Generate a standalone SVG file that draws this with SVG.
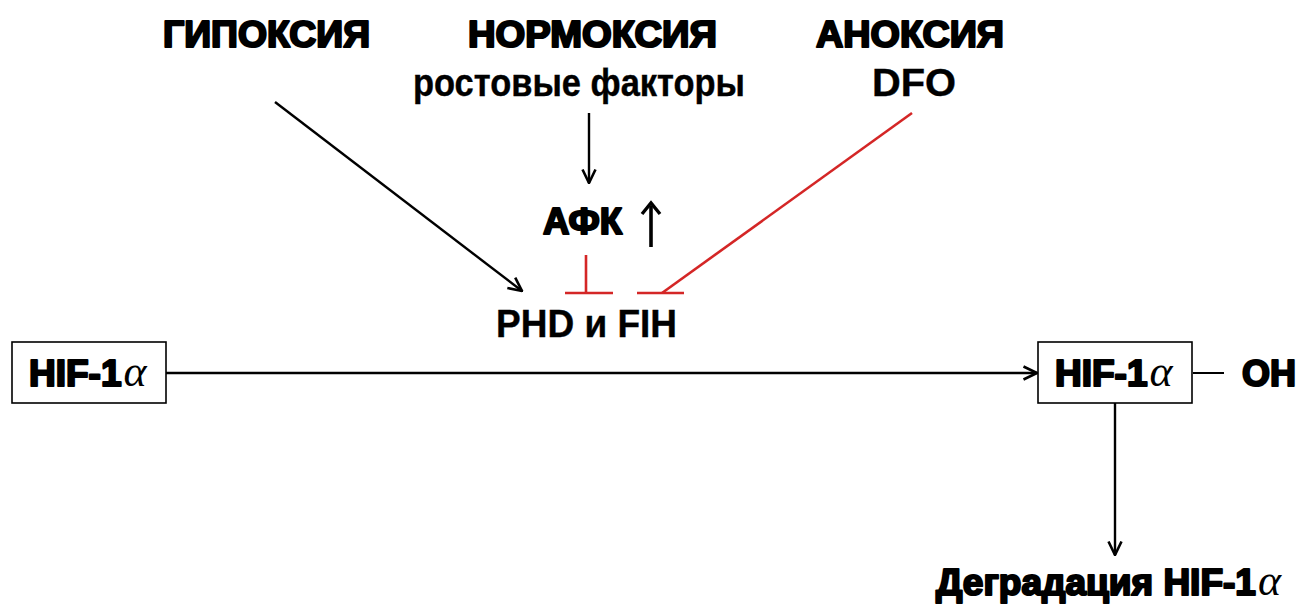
<svg xmlns="http://www.w3.org/2000/svg" width="1302" height="608" viewBox="0 0 1302 608">
  <style>
    .hdr { font-family: "Liberation Sans", Arial, sans-serif; font-weight: bold; font-size: 37px; fill: #000; stroke: #000; stroke-width: 2.2px; stroke-linejoin: round; }
    .lbl { font-family: "Liberation Sans", Arial, sans-serif; font-weight: bold; font-size: 38px; fill: #000; stroke: #000; stroke-width: 0.4px; }
    .alpha { font-family: "Liberation Serif", "Times New Roman", serif; font-style: italic; font-weight: normal; font-size: 44px; stroke: none; }
    .box { fill: #fff; stroke: #000; stroke-width: 1.6; }
    .arr { stroke: #000; stroke-width: 2.4; fill: none; marker-end: url(#head); }
    .up { stroke: #000; stroke-width: 3.6; fill: none; }
    .inh { stroke: #d42626; stroke-width: 2.6; fill: none; }
    .ln { stroke: #000; stroke-width: 2; fill: none; }
  </style>
  <defs>
    <marker id="head" viewBox="0 0 16 16" refX="15" refY="8" markerWidth="16" markerHeight="16" markerUnits="userSpaceOnUse" orient="auto">
      <path d="M1.5,1.5 L15,8 L1.5,14.5" fill="none" stroke="#000" stroke-width="2.6"/>
    </marker>
  </defs>
  <rect width="1302" height="608" fill="#fff"/>

  <g id="hypoxia"><text class="hdr" x="163" y="47" textLength="207" lengthAdjust="spacingAndGlyphs">ГИПОКСИЯ</text></g>
  <g id="normoxia">
    <text class="hdr" x="468" y="47" textLength="249" lengthAdjust="spacingAndGlyphs">НОРМОКСИЯ</text>
    <text class="lbl" x="413" y="96" textLength="332" lengthAdjust="spacingAndGlyphs">ростовые факторы</text>
  </g>
  <g id="anoxia">
    <text class="hdr" x="816" y="47" textLength="188" lengthAdjust="spacingAndGlyphs">АНОКСИЯ</text>
    <text class="lbl" x="872" y="96" textLength="84" lengthAdjust="spacingAndGlyphs">DFO</text>
  </g>
  <g id="ros">
    <text class="hdr" x="543" y="234" textLength="79" lengthAdjust="spacingAndGlyphs">АФК</text>
    <line class="up" x1="651" y1="247" x2="651" y2="206"/>
    <path d="M642,214 L651,203 L660,214" fill="none" stroke="#000" stroke-width="3.4"/>
  </g>
  <g id="phd-fih"><text class="lbl" x="496" y="337" textLength="181" lengthAdjust="spacingAndGlyphs">PHD и FIH</text></g>

  <g id="hif-left">
    <rect class="box" x="12" y="342" width="154" height="61"/>
    <text class="hdr" x="29" y="386">HIF-1<tspan class="alpha" dx="2">α</tspan></text>
  </g>
  <g id="hif-right">
    <rect class="box" x="1038" y="342" width="154" height="61"/>
    <text class="hdr" x="1055" y="386">HIF-1<tspan class="alpha" dx="2">α</tspan></text>
  </g>
  <g id="oh"><text class="hdr" x="1242" y="386" textLength="54" lengthAdjust="spacingAndGlyphs">OH</text></g>
  <g id="degradation"><text class="hdr" x="936" y="595">Деградация HIF-1<tspan class="alpha" dx="2">α</tspan></text></g>

  <g id="connectors">
    <line class="arr" x1="275" y1="102" x2="522" y2="291"/>
    <line class="arr" x1="589" y1="113" x2="589" y2="183"/>
    <line class="arr" x1="166" y1="373" x2="1037" y2="373"/>
    <line class="arr" x1="1115" y1="403" x2="1115" y2="555"/>
    <line class="ln" x1="1193" y1="373" x2="1224" y2="373"/>
    <!-- inhibition: ROS -> PHD/FIH -->
    <line class="inh" x1="586" y1="255" x2="586" y2="293"/>
    <line class="inh" x1="565" y1="293" x2="613" y2="293"/>
    <!-- inhibition: anoxia/DFO -> PHD/FIH -->
    <line class="inh" x1="912" y1="113" x2="662" y2="293"/>
    <line class="inh" x1="637" y1="293" x2="684" y2="293"/>
  </g>
</svg>
